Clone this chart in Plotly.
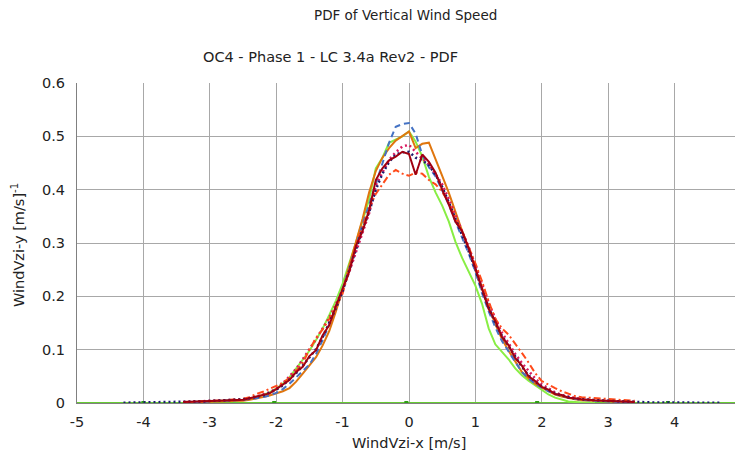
import plotly.graph_objects as go

# ---------------- data ----------------
x_vals = [-4.3, -4.0, -3.7, -3.4, -3.1, -2.8, -2.6,
          -2.5, -2.4, -2.3, -2.2, -2.1, -2.0, -1.9, -1.8, -1.7, -1.6,
          -1.5, -1.4, -1.3, -1.2, -1.1, -1.0, -0.9, -0.8, -0.7, -0.6,
          -0.5, -0.4, -0.3, -0.2, -0.1, 0.0,
          0.1, 0.2, 0.3, 0.4, 0.5, 0.6, 0.7, 0.8, 0.9, 1.0,
          1.1, 1.2, 1.3, 1.4, 1.5, 1.6, 1.7, 1.8, 1.9, 2.0,
          2.1, 2.2, 2.3, 2.4, 2.5,
          2.6, 2.8, 3.0, 3.2, 3.4, 3.7, 4.0, 4.3, 4.7]

blue_dash = [None, None, None, 0.001, 0.002, 0.004, 0.005,
             0.006, 0.007, 0.009, 0.011, 0.014, 0.019, 0.026, 0.036, 0.048, 0.060,
             0.072, 0.092, 0.118, 0.148, 0.180, 0.214, 0.252, 0.294, 0.335, 0.372,
             0.412, 0.448, 0.488, 0.518, 0.523, 0.525,
             0.505, 0.465, 0.442, 0.425, 0.400, 0.372, 0.340, 0.310, 0.280, 0.246,
             0.206, 0.172, 0.142, 0.116, 0.096, 0.076, 0.058, 0.046, 0.036, 0.029,
             0.022, 0.017, 0.013, 0.010, 0.008,
             0.006, 0.004, 0.003, 0.002, 0.001, None, None, None, None]

orange_solid = [None, None, None, 0.001, 0.002, 0.003, 0.004,
                0.004, 0.006, 0.008, 0.011, 0.014, 0.018, 0.022, 0.028, 0.040, 0.055,
                0.070, 0.086, 0.108, 0.135, 0.172, 0.212, 0.258, 0.300, 0.345, 0.395,
                0.435, 0.460, 0.478, 0.492, 0.500, 0.509,
                0.478, 0.486, 0.488, 0.458, 0.426, 0.394, 0.358, 0.322, 0.290, 0.252,
                0.214, 0.180, 0.148, 0.120, 0.098, 0.078, 0.058, 0.046, 0.036, 0.029,
                0.022, 0.016, 0.012, 0.009, 0.007,
                0.005, 0.004, 0.003, 0.002, 0.001, None, None, None, None]

green_solid = [None, None, None, 0.001, 0.002, 0.004, 0.005,
               0.006, 0.008, 0.011, 0.015, 0.020, 0.027, 0.036, 0.048, 0.064, 0.080,
               0.098, 0.118, 0.140, 0.165, 0.192, 0.224, 0.260, 0.300, 0.342, 0.382,
               0.440, 0.460, 0.488, 0.494, 0.500, 0.509,
               0.490, 0.462, 0.424, 0.395, 0.370, 0.340, 0.302, 0.272, 0.245, 0.220,
               0.186, 0.140, 0.110, 0.096, 0.082, 0.065, 0.052, 0.042, 0.033, 0.025,
               0.016, 0.010, 0.006, 0.003, 0.002,
               0.001, 0.001, None, None, None, None, None, None, None]

navy_dot = [0.0005, 0.001, 0.001, 0.002, 0.003, 0.005, 0.006,
            0.007, 0.009, 0.011, 0.014, 0.019, 0.025, 0.033, 0.045, 0.056, 0.070,
            0.085, 0.101, 0.124, 0.150, 0.178, 0.210, 0.248, 0.290, 0.326, 0.358,
            0.400, 0.430, 0.452, 0.466, 0.470, 0.471,
            0.460, 0.455, 0.446, 0.428, 0.405, 0.376, 0.345, 0.316, 0.284, 0.250,
            0.212, 0.179, 0.150, 0.126, 0.106, 0.086, 0.068, 0.052, 0.040, 0.031,
            0.024, 0.018, 0.014, 0.011, 0.008,
            0.007, 0.005, 0.004, 0.003, 0.002, 0.001, 0.001, 0.0005, 0.0003]

pink_dot = [None, None, None, 0.002, 0.003, 0.005, 0.006,
            0.007, 0.009, 0.012, 0.016, 0.020, 0.027, 0.037, 0.050, 0.064, 0.082,
            0.100, 0.120, 0.140, 0.160, 0.185, 0.212, 0.246, 0.282, 0.318, 0.356,
            0.408, 0.432, 0.456, 0.470, 0.481, 0.484,
            0.470, 0.458, 0.448, 0.430, 0.410, 0.382, 0.352, 0.322, 0.292, 0.258,
            0.222, 0.188, 0.158, 0.132, 0.112, 0.092, 0.075, 0.060, 0.046, 0.035,
            0.027, 0.020, 0.015, 0.012, 0.009,
            0.007, 0.005, 0.004, 0.003, 0.002, None, None, None, None]

red_dashdot = [None, None, None, 0.002, 0.003, 0.005, 0.007,
               0.008, 0.011, 0.017, 0.021, 0.026, 0.032, 0.038, 0.047, 0.060, 0.075,
               0.100, 0.122, 0.138, 0.158, 0.182, 0.205, 0.250, 0.298, 0.330, 0.365,
               0.392, 0.410, 0.428, 0.437, 0.430, 0.426,
               0.432, 0.430, 0.418, 0.410, 0.396, 0.375, 0.350, 0.322, 0.292, 0.262,
               0.228, 0.190, 0.158, 0.140, 0.128, 0.112, 0.094, 0.076, 0.056, 0.041,
               0.034, 0.028, 0.022, 0.018, 0.013,
               0.011, 0.009, 0.007, 0.006, 0.004, None, None, None, None]

darkred_solid = [None, None, None, 0.002, 0.003, 0.004, 0.005,
                 0.006, 0.009, 0.012, 0.015, 0.018, 0.026, 0.035, 0.043, 0.058, 0.068,
                 0.088, 0.099, 0.127, 0.146, 0.182, 0.214, 0.246, 0.294, 0.322, 0.362,
                 0.418, 0.440, 0.455, 0.462, 0.471, 0.467,
                 0.428, 0.466, 0.452, 0.432, 0.400, 0.372, 0.340, 0.322, 0.290, 0.252,
                 0.215, 0.176, 0.154, 0.124, 0.108, 0.084, 0.070, 0.050, 0.041, 0.030,
                 0.025, 0.017, 0.015, 0.010, 0.009,
                 0.007, 0.005, 0.004, 0.003, 0.002, None, None, None, None]

baseline_x = [-5.0, 5.0]
baseline_y = [0.0, 0.0]
baseline_marker_x = [-4.0, -2.03, -0.04, 1.93, 3.9]
baseline_marker_y = [0.0, 0.0, 0.0, 0.0, 0.0]

x_ticks = [-5, -4, -3, -2, -1, 0, 1, 2, 3, 4, 5]
y_ticks = [0, 0.1, 0.2, 0.3, 0.4, 0.5, 0.6]
y_tick_text = ["0", "0.1", "0.2", "0.3", "0.4", "0.5", "0.6"]

# ---------------- figure ----------------
FONT = "DejaVu Sans, Verdana, sans-serif"
OFF = 8                      # default page body margin
W, H = 743 - OFF, 457 - OFF  # figure size so it fills the window
ML, MR, MT, MB = 77 - OFF, 2, 83 - OFF, 54
PW, PH = W - ML - MR, H - MT - MB

def px_to_paper(px, py):
    # px, py are window-pixel positions
    fx, fy = px - OFF, py - OFF
    return (fx - ML) / PW, (H - MB - fy) / PH

fig = go.Figure()

fig.add_trace(go.Scatter(x=baseline_x, y=baseline_y, mode="lines",
                         line=dict(color="#66cc33", width=2), hoverinfo="skip"))
fig.add_trace(go.Scatter(x=baseline_marker_x, y=baseline_marker_y, mode="markers",
                         marker=dict(color="#2e9e14", size=4, symbol="square"),
                         hoverinfo="skip"))

series = [
    (green_solid, "#88ee44", "solid", 2),
    (orange_solid, "#e0760e", "solid", 2),
    (blue_dash, "#4472c4", "6px,4px", 2),
    (pink_dot, "#d81b60", "2px,3px", 2.5),
    (red_dashdot, "#ff4a1a", "7px,3px,2px,3px", 2),
    (navy_dot, "#1c1c6e", "2px,3px", 2.5),
    (darkred_solid, "#a00010", "solid", 2),
]
for ys, col, dash, w in series:
    fig.add_trace(go.Scatter(x=x_vals, y=ys, mode="lines", connectgaps=False,
                             line=dict(color=col, width=w, dash=dash)))

annots = []
for text, px, py, size in [
    ("PDF of Vertical Wind Speed", 405, 15, 13.5),
    ("OC4 - Phase 1 - LC 3.4a Rev2 - PDF", 330, 57, 14.5),
    ("WindVzi-x [m/s]", 409, 443, 14.5),
]:
    ax_, ay_ = px_to_paper(px, py)
    annots.append(dict(text=text, x=ax_, y=ay_, xref="paper", yref="paper",
                       xanchor="center", yanchor="middle", showarrow=False,
                       font=dict(size=size, family=FONT, color="#222222")))
ax_, ay_ = px_to_paper(18, 245)
annots.append(dict(text="WindVzi-y [m/s]<sup>-1</sup>", x=ax_, y=ay_, xref="paper",
                   yref="paper", xanchor="center", yanchor="middle", textangle=-90,
                   showarrow=False, font=dict(size=14.5, family=FONT, color="#222222")))

fig.update_layout(
    width=W, height=H,
    margin=dict(l=ML, r=MR, t=MT, b=MB, autoexpand=False),
    paper_bgcolor="white", plot_bgcolor="white",
    showlegend=False,
    font=dict(family=FONT, size=14.5, color="#222222"),
    annotations=annots,
)

fig.update_xaxes(range=[-5, 5], tickvals=x_ticks, ticktext=[str(t) for t in x_ticks],
                 showgrid=True, gridcolor="#a8a8a8", gridwidth=1, zeroline=False,
                 showline=True, linecolor="#808080", linewidth=1, automargin=False,
                 ticks="outside", ticklen=6, tickcolor="rgba(0,0,0,0)",
                 ticklabeloverflow="allow",
                 tickfont=dict(size=14.5, family=FONT, color="#222222"))
fig.update_yaxes(range=[0, 0.6], tickvals=y_ticks, ticktext=y_tick_text,
                 showgrid=True, gridcolor="#a8a8a8", gridwidth=1, zeroline=False,
                 showline=True, linecolor="#808080", linewidth=1, automargin=False,
                 ticks="outside", ticklen=8, tickcolor="rgba(0,0,0,0)",
                 tickfont=dict(size=14.5, family=FONT, color="#222222"))

fig.write_html("out.html")
